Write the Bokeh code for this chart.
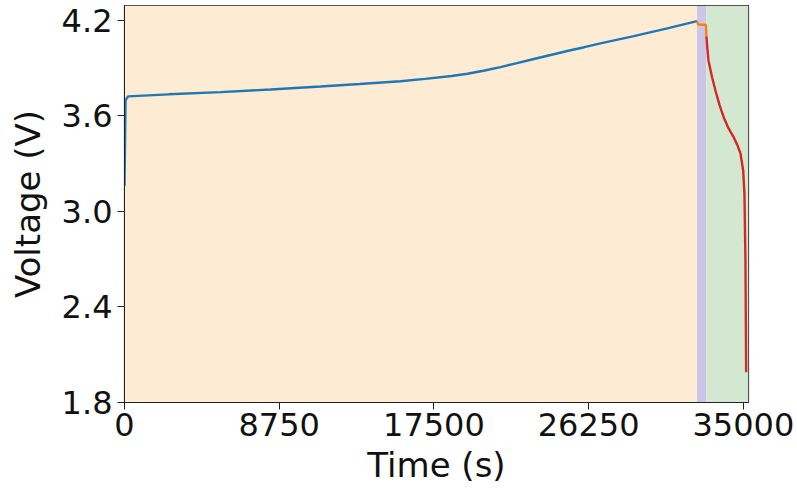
from bokeh.plotting import figure
from bokeh.models import BoxAnnotation, FixedTicker, PrintfTickFormatter, Range1d
from bokeh.embed import file_html
from bokeh.resources import INLINE

# Constant-current charge (s, V)
charge_t = [0, 60, 200, 2500, 5430, 8256, 11080, 13300, 15600, 17000, 18500,
            19400, 20300, 21260, 22200, 23150, 24100, 25040, 26000, 26920,
            28800, 30700, 32380]
charge_v = [3.16, 3.70, 3.723, 3.736, 3.750, 3.766, 3.785, 3.801, 3.818, 3.833,
            3.851, 3.865, 3.884, 3.907, 3.932, 3.958, 3.983, 4.008, 4.032, 4.056,
            4.102, 4.150, 4.196]

# Rest after charge
rest_t = [32380, 32440, 32880, 32910]
rest_v = [4.196, 4.175, 4.172, 4.100]

# Discharge to cut-off
dis_t = [32910, 32960, 33025, 33234, 33420, 33650, 33890, 34150, 34456, 34650,
         34835, 34900, 34988, 35060, 35117, 35157]
dis_v = [4.100, 4.030, 3.949, 3.842, 3.760, 3.670, 3.591, 3.525, 3.465, 3.420,
         3.365, 3.320, 3.258, 3.113, 2.692, 1.990]

# Phase boundaries (s)
phase_edges = [0, 32380, 32900, 35290]
phase_colors = ["#FDEBD3", "#C9C6EA", "#D3E7D1"]

x_ticks = [0, 8750, 17500, 26250, 35000]
y_ticks = [1.8, 2.4, 3.0, 3.6, 4.2]
y_limits = [1.8, 4.294]

FONT = "DejaVu Sans"

p = figure(width=797, height=488, output_backend="svg", toolbar_location=None,
           x_range=Range1d(phase_edges[0], phase_edges[-1]),
           y_range=Range1d(y_limits[0], y_limits[1]),
           min_border_left=124, min_border_right=49,
           min_border_top=5, min_border_bottom=86)
p.background_fill_color = "white"
p.border_fill_color = "white"
p.grid.visible = False
p.outline_line_color = "#222222"
p.outline_line_width = 1.2

for (l, r), c in zip(zip(phase_edges[:-1], phase_edges[1:]), phase_colors):
    p.add_layout(BoxAnnotation(left=l, right=r, fill_color=c, fill_alpha=1.0,
                               line_color=None, level="underlay"))

p.line(charge_t, charge_v, line_color="#1f77b4", line_width=2.4)
p.line(rest_t, rest_v, line_color="#ff7f0e", line_width=2.4)
p.line(dis_t, dis_v, line_color="#d62728", line_width=2.4)

p.xaxis.ticker = FixedTicker(ticks=x_ticks)
p.yaxis.ticker = FixedTicker(ticks=y_ticks)
p.xaxis.formatter = PrintfTickFormatter(format="%d")
p.yaxis.formatter = PrintfTickFormatter(format="%.1f")
p.xaxis.axis_label = "Time (s)"
p.yaxis.axis_label = "Voltage (V)"

for ax in (p.xaxis, p.yaxis):
    ax.axis_line_color = "#222222"
    ax.major_tick_line_color = "#222222"
    ax.major_tick_out = 7
    ax.major_tick_in = 0
    ax.minor_tick_line_color = None
    ax.major_label_text_font = FONT
    ax.major_label_text_font_size = "32px"
    ax.major_label_text_color = "#111111"
    ax.axis_label_text_font = FONT
    ax.axis_label_text_font_size = "34px"
    ax.axis_label_text_font_style = "normal"
    ax.axis_label_text_color = "#111111"

p.xaxis.major_label_standoff = 3
p.xaxis.axis_label_standoff = 6
p.yaxis.major_label_standoff = 5
p.yaxis.axis_label_standoff = 11

open("out.html", "w").write(file_html(p, INLINE))
